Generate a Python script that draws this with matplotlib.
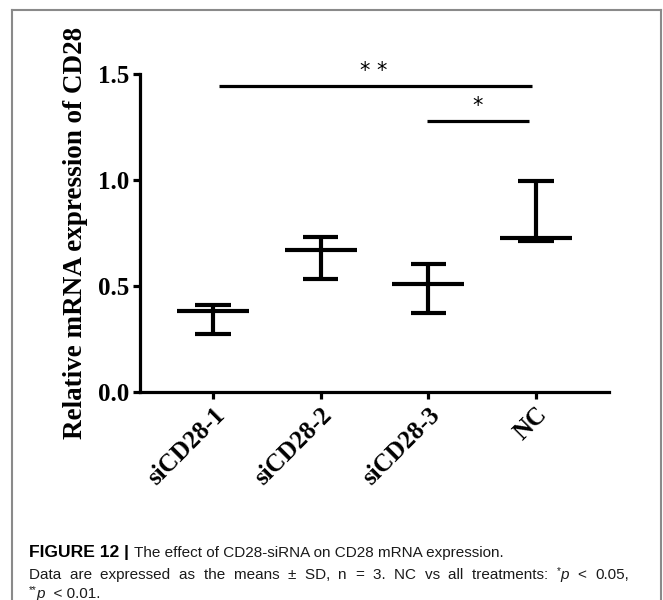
import matplotlib
matplotlib.use('Agg')
import matplotlib.pyplot as plt
from matplotlib.lines import Line2D

groups = ['siCD28-1', 'siCD28-2', 'siCD28-3', 'NC']
means = [0.383, 0.671, 0.511, 0.728]
lows = [0.274, 0.532, 0.373, 0.712]
highs = [0.410, 0.733, 0.602, 0.997]

sig_pairs = [(0.05, 2.96), (1.99, 2.94)]
sig_heights = [1.443, 1.278]
sig_marks = ['* *', '*']

W, H = 663, 600
fig = plt.figure(figsize=(W / 100, H / 100), dpi=100)
ax = fig.add_axes([140 / W, 1 - 392 / H, (609 - 140) / W, (392 - 74) / H])

x = list(range(len(groups)))
lw = 3.0
ax.hlines(means, [i - 0.335 for i in x], [i + 0.335 for i in x], color='black', lw=lw, capstyle='butt')
ax.hlines(lows, [i - 0.165 for i in x], [i + 0.165 for i in x], color='black', lw=lw, capstyle='butt')
ax.hlines(highs, [i - 0.165 for i in x], [i + 0.165 for i in x], color='black', lw=lw, capstyle='butt')
ax.vlines(x, lows, highs, color='black', lw=lw)

for (a, b), h, m in zip(sig_pairs, sig_heights, sig_marks):
    ax.plot([a, b], [h, h], color='black', lw=2.3, solid_capstyle='butt', clip_on=False)
    ax.text((a + b) / 2 - 0.01, h + 0.025, m, ha='center', va='bottom', fontsize=15,
            family='DejaVu Sans', clip_on=False)

ax.set_xlim(-0.68, 3.68)
ax.set_ylim(0, 1.5)
ax.set_yticks([0, 0.5, 1.0, 1.5])
ax.set_yticklabels(['0.0', '0.5', '1.0', '1.5'])
ax.set_xticks(x)
ax.set_xticklabels(groups, rotation=45, ha='right', rotation_mode='anchor')
for s in ['top', 'right']:
    ax.spines[s].set_visible(False)
for s in ['left', 'bottom']:
    ax.spines[s].set_linewidth(2.3)
ax.tick_params(direction='out', length=5, width=2.3, pad=3)
for lab in ax.get_xticklabels() + ax.get_yticklabels():
    lab.set_fontfamily('Liberation Serif')
    lab.set_fontweight('bold')
    lab.set_fontsize(18)
ax.set_ylabel('Relative mRNA expression of CD28', family='Liberation Serif',
              fontweight='bold', fontsize=19.5)
ax.yaxis.set_label_coords(-(140 - 88) / (609 - 140), (392 - 233) / (392 - 74))

# frame around figure panel
gray = '#8a8a8a'
fig.add_artist(Line2D([12 / W, 12 / W], [0, 1 - 10 / H], color=gray, lw=1.5))
fig.add_artist(Line2D([12 / W, 661 / W], [1 - 10 / H, 1 - 10 / H], color=gray, lw=1.5))
fig.add_artist(Line2D([661 / W, 661 / W], [0, 1 - 10 / H], color=gray, lw=1.5))

# caption, drawn piece by piece
fig.canvas.draw()
renderer = fig.canvas.get_renderer()
cap_font = 'Liberation Sans'
cap_size = 11.0


def make_pieces(x0, y0, pieces):
    out = []
    for txt, kw in pieces:
        kw = dict(kw)
        dy = kw.pop('dy', 0)
        kw.setdefault('color', '#1a1a1a')
        t = fig.text(x0 / W, 1 - (y0 - dy) / H, txt, family=cap_font,
                     va='baseline', ha='left', **kw)
        out.append((t, txt))
    return out


def write_line(x0, y0, pieces, width=None):
    arts = make_pieces(x0, y0, pieces)
    widths = [a[0].get_window_extent(renderer).width for a in arts]
    extra = 0
    n_gaps = sum(1 for a in arts[:-1] if a[1].endswith(' '))
    if width is not None and n_gaps:
        extra = (width - sum(widths)) / n_gaps
    xp = x0
    for (t, txt), w in zip(arts, widths):
        t.set_x(xp / W)
        xp += w
        if txt.endswith(' '):
            xp += extra


x0 = 29
write_line(x0, 557, [('FIGURE 12 ', dict(fontweight='bold', fontsize=cap_size + 1.6, color='black')),
                     ('| ', dict(fontweight='bold', fontsize=cap_size + 1.6, color='black')),
                     ('The effect of CD28-siRNA on CD28 mRNA expression.', dict(fontsize=cap_size))])

line2 = 'Data are expressed as the means \u00b1 SD, n = 3. NC vs all treatments: '
words = [(w + ' ', dict(fontsize=cap_size)) for w in line2.split()]
words += [('*', dict(fontsize=cap_size * 0.65, dy=5)),
          ('p', dict(fontsize=cap_size, style='italic')),
          (' ', dict(fontsize=cap_size)),
          ('< ', dict(fontsize=cap_size)),
          ('0.05,', dict(fontsize=cap_size))]
write_line(x0, 579, words, width=600)
write_line(x0, 598, [('**', dict(fontsize=cap_size * 0.65, dy=5)),
                     ('p', dict(fontsize=cap_size, style='italic')),
                     ('  < 0.01.', dict(fontsize=cap_size))])

fig.savefig('out.png', dpi=100)
